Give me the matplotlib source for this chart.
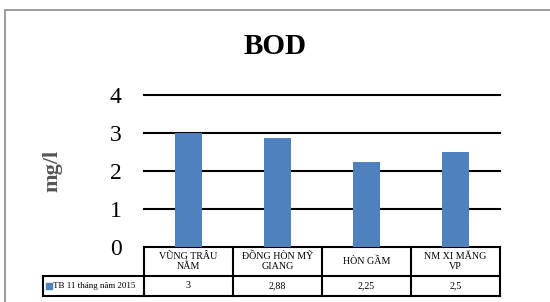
import matplotlib.pyplot as plt
import matplotlib.transforms as mtransforms
from matplotlib.patches import Rectangle

categories = ['VŨNG TRÂU\nNẰM', 'ĐỒNG HÒN MỸ\nGIANG', 'HÒN GẦM', 'NM XI MĂNG\nVP']
values = [3, 2.88, 2.25, 2.5]
value_labels = ['3', '2,88', '2,25', '2,5']
series_name = 'TB 11 tháng năm 2015'
yticks = [0, 1, 2, 3, 4]

plt.rcParams['font.family'] = ['Liberation Serif', 'DejaVu Serif']
bar_color = '#4F81BD'

fig = plt.figure(figsize=(5.5, 3.02), dpi=100)
W, H = 550, 302

# outer chart border
fig.patches.append(Rectangle((5 / W, -0.1), 1.2, 1 - 10 / H + 0.1, transform=fig.transFigure,
                             fill=False, edgecolor='#8c8c8c', linewidth=1.2))

left, right, bottom, top = 144 / W, 500 / W, 1 - 247 / H, 1 - 95 / H
ax = fig.add_axes([left, bottom, right - left, top - bottom])

x = range(len(categories))
ax.bar(x, values, width=0.31, color=bar_color, zorder=3)
ax.set_xlim(-0.5, len(categories) - 0.5)
ax.set_ylim(0, 4)
ax.set_yticks(yticks)
ax.set_yticklabels([str(t) for t in yticks], fontsize=17)
ax.tick_params(axis='y', length=0, pad=16)
ax.tick_params(axis='x', bottom=False, labelbottom=False)
for s in ax.spines.values():
    s.set_visible(False)
for t in yticks[1:]:
    ax.axhline(t, color='black', linewidth=1.5, zorder=1, clip_on=False)

ax.set_ylabel('mg/l', fontsize=16, fontweight='bold', color='#555555', labelpad=34)
fig.text(0.5, 1 - 47 / H, 'BOD', ha='center', va='center', fontsize=21, fontweight='bold')

# data table below axes
ph = (top - bottom) * H  # axes height in px
def ay(py):
    return (247 - py) / ph

trans = mtransforms.blended_transform_factory(ax.transData, ax.transAxes)
transL = mtransforms.blended_transform_factory(fig.transFigure, ax.transAxes)
y0, y1, y2 = ay(247), ay(276), ay(296)
n = len(categories)
lw = 1.5
for yy in (y0, y1, y2):
    ax.plot([-0.5, n - 0.5], [yy, yy], transform=trans, color='black', lw=lw, clip_on=False)
for i in range(n + 1):
    ax.plot([i - 0.5, i - 0.5], [y0, y2], transform=trans, color='black', lw=lw, clip_on=False)
# legend cell
ax.plot([43 / W, left], [y1, y1], transform=transL, color='black', lw=lw, clip_on=False)
ax.plot([43 / W, left], [y2, y2], transform=transL, color='black', lw=lw, clip_on=False)
ax.plot([43 / W, 43 / W], [y1, y2], transform=transL, color='black', lw=lw, clip_on=False)
ax.add_patch(Rectangle((46 / W, ay(289)), 6 / W, 6 / ph, transform=transL, color=bar_color,
                       clip_on=False))
ax.text(53 / W, (y1 + y2) / 2, series_name, transform=transL, fontsize=6.5, va='center', ha='left')

for i, (c, v) in enumerate(zip(categories, value_labels)):
    ax.text(i, (y0 + y1) / 2, c, transform=trans, fontsize=7.2, ha='center', va='center',
            linespacing=1.15)
    ax.text(i, (y1 + y2) / 2, v, transform=trans, fontsize=7.2, ha='center', va='center')

fig.savefig('out.png', dpi=100)
